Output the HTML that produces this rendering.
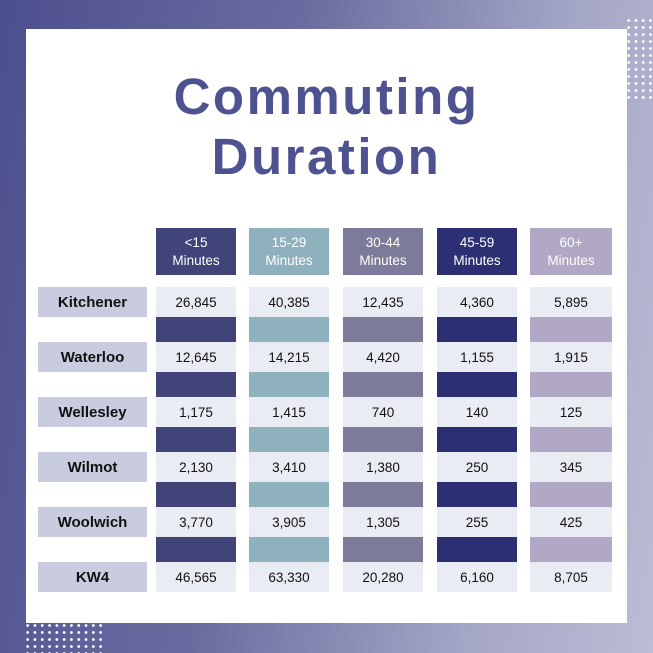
<!DOCTYPE html>
<html><head><style>
*{margin:0;padding:0;box-sizing:border-box}
body{width:653px;height:653px;overflow:hidden;position:relative;font-family:"Liberation Sans",sans-serif;
background:linear-gradient(100deg,#4c4f8e 0%,#6a6ca0 40%,#a4a6c6 75%,#bcbcd4 100%);}
.card{position:absolute;left:26px;top:29px;width:601px;height:594px;background:#fff;}
.dots{position:absolute;background-image:radial-gradient(circle,#fff 1.2px,transparent 1.6px);background-size:7.3px 7px;}
.t{position:absolute;left:0;width:653px;text-align:center;color:#4e5290;font-weight:bold;font-size:51px;letter-spacing:2.5px;line-height:60px}
.c{position:absolute;display:flex;align-items:center;justify-content:center;text-align:center;font-size:13.5px;color:#111}
.h{color:#fff;font-size:13.5px;line-height:18px}
.l{background:#c9cbde;font-weight:bold;font-size:15px}
.d{background:#e9ecf3}
</style></head><body>
<div class="dots" style="left:625px;top:17px;width:30px;height:82px"></div>
<div class="dots" style="left:24px;top:622px;width:82px;height:31px"></div>
<div class="card"></div>
<div class="t" style="top:67px">Commuting</div>
<div class="t" style="top:127px">Duration</div>
<div id="g"></div>
<script>
var xs=[156,249,343,437,530],w=[80,80,80,80,82];
var cols=["#404478","#8fb0bd","#7d7b9a","#2c2f72","#b0a8c4"];
var hd=["&lt;15","15-29","30-44","45-59","60+"];
var rows=[["Kitchener","26,845","40,385","12,435","4,360","5,895"],["Waterloo","12,645","14,215","4,420","1,155","1,915"],["Wellesley","1,175","1,415","740","140","125"],["Wilmot","2,130","3,410","1,380","250","345"],["Woolwich","3,770","3,905","1,305","255","425"],["KW4","46,565","63,330","20,280","6,160","8,705"]];
var h="";
for(var j=0;j<5;j++)h+='<div class="c h" style="left:'+xs[j]+'px;top:228px;width:'+w[j]+'px;height:47px;background:'+cols[j]+'">'+hd[j]+'<br>Minutes</div>';
for(var i=0;i<6;i++){var y=287+55*i;
h+='<div class="c l" style="left:38px;top:'+y+'px;width:109px;height:30px">'+rows[i][0]+'</div>';
for(var j=0;j<5;j++){h+='<div class="c d" style="left:'+xs[j]+'px;top:'+y+'px;width:'+w[j]+'px;height:30px">'+rows[i][j+1]+'</div>';
if(i<5)h+='<div class="c" style="left:'+xs[j]+'px;top:'+(y+30)+'px;width:'+w[j]+'px;height:25px;background:'+cols[j]+'"></div>';}}
document.getElementById("g").innerHTML=h;
</script>
</body></html>
